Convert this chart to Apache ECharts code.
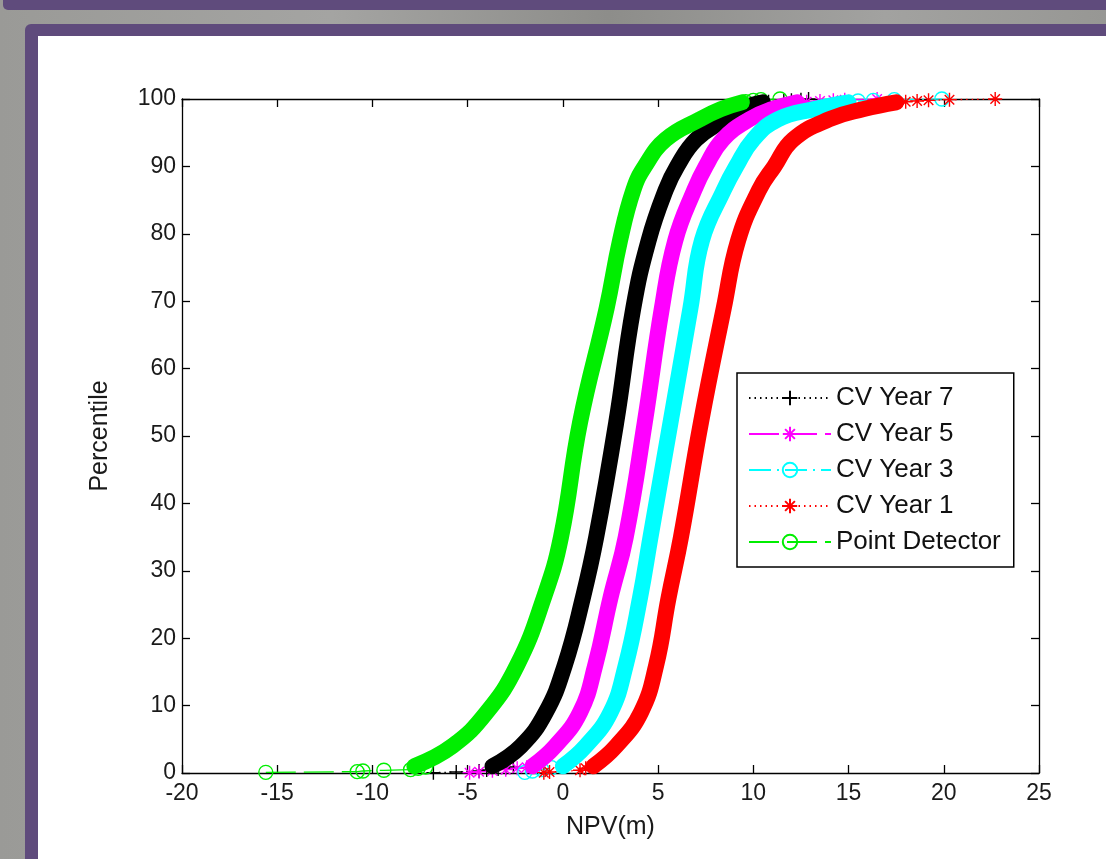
<!DOCTYPE html>
<html>
<head>
<meta charset="utf-8">
<script src="https://cdn.jsdelivr.net/npm/echarts@6/dist/echarts.min.js"></script>
<style>
  html, body { margin: 0; padding: 0; width: 1106px; height: 859px; overflow: hidden; }
  body { position: relative; background: linear-gradient(90deg, #9a9a97 0%, #a4a4a2 30%, #8d8d8a 55%, #a2a2a0 80%, #979794 100%); }
  #band { position: absolute; left: 3px; top: 0; width: 1103px; height: 10px; background: #5f4b7c; border-radius: 0 0 0 5px; }
  #frame { position: absolute; left: 25px; top: 24px; right: 0; bottom: 0; background: #5f4b7c; border-top-left-radius: 6px; }
  #paper { position: absolute; left: 38px; top: 36px; right: 0; bottom: 0; background: #fff; }
  #chart { position: absolute; left: 0; top: 0; width: 1106px; height: 859px; }
</style>
</head>
<body>
<div id="band"></div>
<div id="frame"></div>
<div id="paper"></div>
<div id="chart"></div>
<script>
// 百分位（纵轴）与各方案的 NPV 读数（横轴）
const pct = [1, 4, 9, 16, 26, 35, 52, 69, 79, 86.5, 90, 94, 97, 98.5, 99.5];
const npvYear7 = [-3.7, -2.2, -0.9, 0.1, 1.05, 1.75, 2.8, 3.7, 4.5, 5.4, 6.0, 7.0, 8.5, 9.3, 10.5];
const npvYear5 = [-1.6, -0.4, 0.9, 1.7, 2.5, 3.3, 4.3, 5.2, 5.9, 6.9, 7.5, 8.4, 9.8, 11.0, 12.3];
const npvYear3 = [0.0, 1.2, 2.5, 3.3, 4.05, 4.6, 5.65, 6.7, 7.3, 8.45, 9.1, 10.0, 11.3, 13.2, 15.0];
const npvYear1 = [1.6, 2.8, 4.1, 4.9, 5.55, 6.2, 7.25, 8.45, 9.2, 10.3, 11.1, 12.1, 14.0, 15.8, 17.5];
const npvPoint = [-7.8, -5.8, -4.0, -2.4, -1.0, -0.1, 0.9, 2.3, 3.0, 3.7, 4.3, 5.4, 7.2, 8.3, 9.4];

// 两端的稀疏点（0 和 100 附近）
const year7LowX = [-6.8, -5.6, -4.4, -4.0, -3.4, -3.0, -2.6];
const year7LowY = [0.05, 0.15, 0.3, 0.45, 0.6, 0.75, 0.9];
const year7TopX = [10.8, 11.6, 12.0, 12.5, 12.9];
const year7TopY = [99.6, 99.7, 99.8, 99.9, 100];
const year5LowX = [-4.9, -4.4, -3.7, -3.0, -2.4, -1.9];
const year5LowY = [0.05, 0.2, 0.35, 0.5, 0.7, 0.85];
const year5TopX = [12.8, 13.5, 14.2, 14.8, 16.5];
const year5TopY = [99.6, 99.7, 99.8, 99.9, 100];
const year3LowX = [-2.0, -1.6, -1.1, -0.6];
const year3LowY = [0.1, 0.3, 0.5, 0.8];
const year3TopX = [15.5, 16.3, 17.4, 19.9];
const year3TopY = [99.7, 99.8, 99.9, 100];
const year1LowX = [-1.0, -0.7, 0.9, 1.2];
const year1LowY = [0.05, 0.15, 0.4, 0.7];
const year1TopX = [18.0, 18.6, 19.2, 20.3, 22.7];
const year1TopY = [99.6, 99.7, 99.8, 99.9, 100];
const pointLowX = [-15.6, -10.8, -10.5, -9.4, -8.0, -7.6, -7.2];
const pointLowY = [0.1, 0.2, 0.3, 0.4, 0.5, 0.7, 0.9];
const pointTopX = [9.6, 10.0, 10.4, 11.4];
const pointTopY = [99.6, 99.8, 99.9, 100];

const xTicks = { min: -20, max: 25, interval: 5 };
const yTicks = { min: 0, max: 100, interval: 10 };

const FONT = "'Liberation Sans', Arial, sans-serif";
const PLUS = 'path://M5,0L5,10M0,5L10,5';
const STAR = 'path://M5,0L5,10M0,5L10,5M1.6,1.6L8.4,8.4M1.6,8.4L8.4,1.6';
const RING = 'circle';

function pairs(xs, ys) {
    return xs.map((x, i) => [x, ys[i]]);
}

const groups = [
    { name: 'CV Year 7', color: '#000000', symbol: PLUS, dash: [1.5, 4], band: npvYear7,
      low: pairs(year7LowX, year7LowY), top: pairs(year7TopX, year7TopY) },
    { name: 'CV Year 5', color: '#ff00ff', symbol: STAR, dash: [30, 8], band: npvYear5,
      low: pairs(year5LowX, year5LowY), top: pairs(year5TopX, year5TopY) },
    { name: 'CV Year 3', color: '#00ffff', symbol: RING, dash: [22, 6, 2, 6], band: npvYear3,
      low: pairs(year3LowX, year3LowY), top: pairs(year3TopX, year3TopY) },
    { name: 'CV Year 1', color: '#ff0000', symbol: STAR, dash: [1.5, 4], band: npvYear1,
      low: pairs(year1LowX, year1LowY), top: pairs(year1TopX, year1TopY) },
    { name: 'Point Detector', color: '#00ee00', symbol: RING, dash: [30, 8], band: npvPoint,
      low: pairs(pointLowX, pointLowY), top: pairs(pointTopX, pointTopY) }
];

// 先放稀疏端点系列（图例取同名的第一个系列），再放粗带
const series = [];
groups.forEach(g => {
    const hollow = g.symbol === RING;
    [g.low, g.top].forEach(d => {
        series.push({
            name: g.name, type: 'line', data: d, z: 3,
            symbol: g.symbol, symbolSize: 14,
            itemStyle: { color: hollow ? 'rgba(255,255,255,0)' : g.color, borderColor: g.color, borderWidth: 1.4 },
            lineStyle: { color: g.color, width: 1.3, type: g.dash },
            animation: false
        });
    });
});
groups.forEach(g => {
    series.push({
        name: g.name, type: 'line', z: 4,
        data: pairs(g.band, pct),
        symbol: 'none', smooth: 0.45,
        lineStyle: { color: g.color, width: 16, cap: 'round', join: 'round' },
        itemStyle: { color: g.color },
        animation: false
    });
});

const chart = echarts.init(document.getElementById('chart'), null, { renderer: 'canvas' });
const axisText = { color: '#1a1a1a', fontSize: 23, fontFamily: FONT };
chart.setOption({
    backgroundColor: 'transparent',
    grid: { left: 182, top: 99, right: 67, bottom: 86 },
    legend: {
        data: groups.map(g => g.name),
        orient: 'vertical', left: 737, top: 373,
        padding: [12, 13, 12, 11],
        itemWidth: 82, itemHeight: 18, itemGap: 10,
        backgroundColor: '#fff', borderColor: '#000', borderWidth: 1.5,
        selectedMode: false,
        textStyle: { color: '#111', fontSize: 26, fontFamily: FONT }
    },
    xAxis: [{
        type: 'value', ...xTicks, position: 'bottom',
        name: 'NPV(m)', nameLocation: 'middle', nameGap: 42,
        nameTextStyle: { color: '#1a1a1a', fontSize: 25, fontFamily: FONT },
        axisLine: { show: true, onZero: false, lineStyle: { color: '#000', width: 1.3 } },
        axisTick: { inside: true, length: 8, lineStyle: { color: '#000', width: 1.3 } },
        axisLabel: { ...axisText, margin: 9 },
        splitLine: { show: false }
    }, {
        type: 'value', ...xTicks, position: 'top',
        axisLine: { show: true, onZero: false, lineStyle: { color: '#000', width: 1.3 } },
        axisTick: { inside: true, length: 8, lineStyle: { color: '#000', width: 1.3 } },
        axisLabel: { show: false }, splitLine: { show: false }
    }],
    yAxis: [{
        type: 'value', ...yTicks, position: 'left',
        name: 'Percentile', nameLocation: 'middle', nameGap: 69,
        nameTextStyle: { color: '#1a1a1a', fontSize: 25, fontFamily: FONT },
        axisLine: { show: true, onZero: false, lineStyle: { color: '#000', width: 1.3 } },
        axisTick: { inside: true, length: 8, lineStyle: { color: '#000', width: 1.3 } },
        axisLabel: { ...axisText, margin: 6 },
        splitLine: { show: false }
    }, {
        type: 'value', ...yTicks, position: 'right',
        axisLine: { show: true, onZero: false, lineStyle: { color: '#000', width: 1.3 } },
        axisTick: { inside: true, length: 8, lineStyle: { color: '#000', width: 1.3 } },
        axisLabel: { show: false }, splitLine: { show: false }
    }],
    series: series
});
</script>
</body>
</html>
